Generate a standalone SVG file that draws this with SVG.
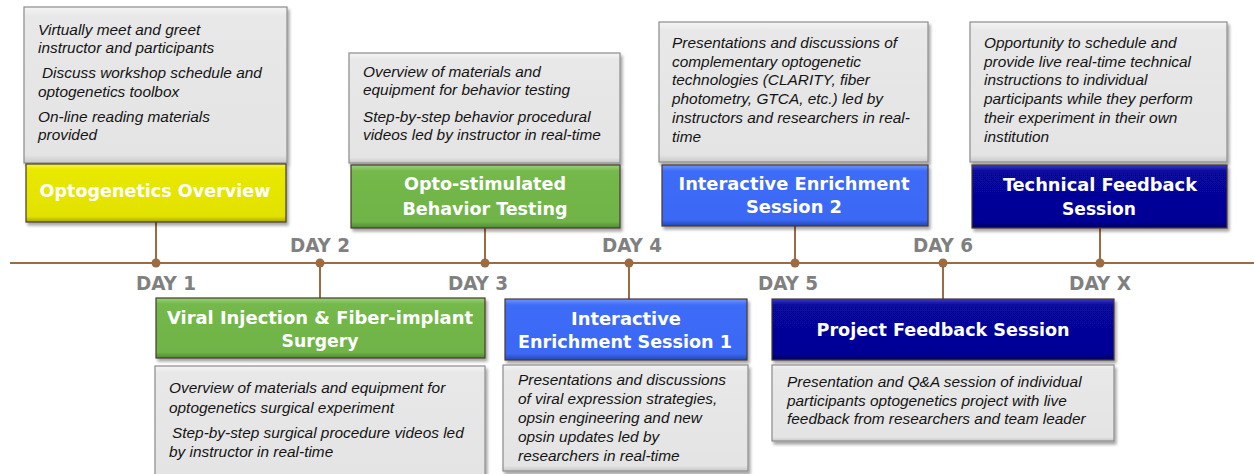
<svg xmlns="http://www.w3.org/2000/svg" width="1254" height="474" viewBox="0 0 1254 474">
<style>
.card{fill:url(#gGray);stroke:#8c8c8c;stroke-width:1.2;filter:url(#sh)}
.hd{stroke:#4a3a2c;stroke-width:1.2;filter:url(#sh)}
.body{font-family:"Liberation Sans",Arial,sans-serif;font-style:italic;font-size:15.4px;fill:#141414}
.ht{font-family:"DejaVu Sans Condensed","DejaVu Sans",sans-serif;font-weight:bold;font-size:18px;fill:#ffffff;text-anchor:middle}
.day{font-family:"DejaVu Sans Condensed","DejaVu Sans",sans-serif;font-weight:bold;font-size:19px;fill:#808080;text-anchor:middle}
.ln{stroke:#9b6b43;stroke-width:2;fill:none}
.dot{fill:#9b6b43}
</style>
<defs>
<filter id="sh" x="-5%" y="-5%" width="115%" height="120%">
<feDropShadow dx="2" dy="3" stdDeviation="1.5" flood-color="#000" flood-opacity="0.35"/>
</filter>
<linearGradient id="gGray" x1="0" y1="0" x2="0" y2="1">
<stop offset="0" stop-color="#f4f4f4"/><stop offset="0.06" stop-color="#e8e8e8"/><stop offset="0.95" stop-color="#e4e4e4"/><stop offset="1" stop-color="#c8c8c8"/>
</linearGradient>
<linearGradient id="gYel" x1="0" y1="0" x2="0" y2="1">
<stop offset="0" stop-color="#f6f640"/><stop offset="0.1" stop-color="#e8e800"/><stop offset="0.9" stop-color="#e2e200"/><stop offset="1" stop-color="#a8a800"/>
</linearGradient>
<linearGradient id="gGrn" x1="0" y1="0" x2="0" y2="1">
<stop offset="0" stop-color="#9ad27a"/><stop offset="0.1" stop-color="#74b84b"/><stop offset="0.9" stop-color="#70b448"/><stop offset="1" stop-color="#4f8a30"/>
</linearGradient>
<linearGradient id="gBlu" x1="0" y1="0" x2="0" y2="1">
<stop offset="0" stop-color="#6f95ff"/><stop offset="0.1" stop-color="#3d6cf8"/><stop offset="0.9" stop-color="#3a68f4"/><stop offset="1" stop-color="#2446b0"/>
</linearGradient>
<linearGradient id="gNav" x1="0" y1="0" x2="0" y2="1">
<stop offset="0" stop-color="#3a3ac8"/><stop offset="0.1" stop-color="#07079c"/><stop offset="0.9" stop-color="#050596"/><stop offset="1" stop-color="#02025e"/>
</linearGradient>
</defs>

<g id="connectors">
<line class="ln" x1="10" y1="263" x2="1254" y2="263"/>
<line class="ln" x1="156" y1="222" x2="156" y2="263"/>
<line class="ln" x1="485" y1="228" x2="485" y2="263"/>
<line class="ln" x1="795" y1="226" x2="795" y2="263"/>
<line class="ln" x1="1100" y1="228" x2="1100" y2="263"/>
<line class="ln" x1="320" y1="263" x2="320" y2="298"/>
<line class="ln" x1="629" y1="263" x2="629" y2="299"/>
<line class="ln" x1="943" y1="263" x2="943" y2="299"/>
<circle class="dot" cx="156" cy="263" r="4.5"/>
<circle class="dot" cx="320" cy="263" r="4.5"/>
<circle class="dot" cx="485" cy="263" r="4.5"/>
<circle class="dot" cx="629" cy="263" r="4.5"/>
<circle class="dot" cx="795" cy="263" r="4.5"/>
<circle class="dot" cx="943" cy="263" r="4.5"/>
<circle class="dot" cx="1100" cy="263" r="4.5"/>
</g>

<g id="days">
<text class="day" x="166" y="290" textLength="60" lengthAdjust="spacingAndGlyphs">DAY 1</text>
<text class="day" x="320" y="252" textLength="60" lengthAdjust="spacingAndGlyphs">DAY 2</text>
<text class="day" x="478" y="290" textLength="60" lengthAdjust="spacingAndGlyphs">DAY 3</text>
<text class="day" x="632" y="252" textLength="60" lengthAdjust="spacingAndGlyphs">DAY 4</text>
<text class="day" x="788" y="290" textLength="60" lengthAdjust="spacingAndGlyphs">DAY 5</text>
<text class="day" x="943" y="252" textLength="60" lengthAdjust="spacingAndGlyphs">DAY 6</text>
<text class="day" x="1100" y="290" textLength="62" lengthAdjust="spacingAndGlyphs">DAY X</text>
</g>

<g id="day1">
<rect class="card" x="24" y="7" width="263" height="156"/>
<text class="body"><tspan x="38" y="35">Virtually meet and greet</tspan><tspan x="38" y="53">instructor and participants</tspan><tspan x="42" y="78">Discuss workshop schedule and</tspan><tspan x="38" y="97">optogenetics toolbox</tspan><tspan x="38" y="122">On-line reading materials</tspan><tspan x="38" y="140">provided</tspan></text>
<rect class="hd" x="26" y="164" width="260" height="58" fill="url(#gYel)"/>
<text class="ht" x="155" y="197" textLength="231" lengthAdjust="spacingAndGlyphs">Optogenetics Overview</text>
</g>

<g id="day2">
<rect class="hd" x="156" y="298" width="329" height="60" fill="url(#gGrn)"/>
<text class="ht" x="320" y="324" textLength="306" lengthAdjust="spacingAndGlyphs">Viral Injection &amp; Fiber-implant</text>
<text class="ht" x="320" y="347" textLength="77" lengthAdjust="spacingAndGlyphs">Surgery</text>
<rect class="card" x="155" y="366" width="330" height="114"/>
<text class="body"><tspan x="169" y="393">Overview of materials and equipment for</tspan><tspan x="169" y="413">optogenetics surgical experiment</tspan><tspan x="172" y="438">Step-by-step surgical procedure videos led</tspan><tspan x="169" y="457">by instructor in real-time</tspan></text>
</g>

<g id="day3">
<rect class="card" x="349" y="53" width="271" height="110"/>
<text class="body"><tspan x="363" y="77">Overview of materials and</tspan><tspan x="363" y="95">equipment for behavior testing</tspan><tspan x="363" y="122">Step-by-step behavior procedural</tspan><tspan x="363" y="140">videos led by instructor in real-time</tspan></text>
<rect class="hd" x="351" y="165" width="269" height="63" fill="url(#gGrn)"/>
<text class="ht" x="485" y="190" textLength="162" lengthAdjust="spacingAndGlyphs">Opto-stimulated</text>
<text class="ht" x="485" y="215" textLength="165" lengthAdjust="spacingAndGlyphs">Behavior Testing</text>
</g>

<g id="day4">
<rect class="hd" x="505" y="299" width="242" height="61" fill="url(#gBlu)"/>
<text class="ht" x="626" y="325" textLength="110" lengthAdjust="spacingAndGlyphs">Interactive</text>
<text class="ht" x="625" y="348" textLength="214" lengthAdjust="spacingAndGlyphs">Enrichment Session 1</text>
<rect class="card" x="503" y="365" width="245" height="106"/>
<text class="body"><tspan x="518" y="385">Presentations and discussions</tspan><tspan x="518" y="404">of viral expression strategies,</tspan><tspan x="518" y="423">opsin engineering and new</tspan><tspan x="518" y="442">opsin updates led by</tspan><tspan x="518" y="461">researchers in real-time</tspan></text>
</g>

<g id="day5">
<rect class="card" x="659" y="22" width="269" height="140"/>
<text class="body"><tspan x="672" y="48">Presentations and discussions of</tspan><tspan x="672" y="67">complementary optogenetic</tspan><tspan x="672" y="85">technologies (CLARITY, fiber</tspan><tspan x="672" y="104">photometry,  GTCA, etc.) led by</tspan><tspan x="672" y="123">instructors and  researchers in real-</tspan><tspan x="672" y="142">time</tspan></text>
<rect class="hd" x="662" y="165" width="266" height="61" fill="url(#gBlu)"/>
<text class="ht" x="794" y="190" textLength="231" lengthAdjust="spacingAndGlyphs">Interactive Enrichment</text>
<text class="ht" x="794" y="213" textLength="96" lengthAdjust="spacingAndGlyphs">Session 2</text>
</g>

<g id="day6">
<rect class="hd" x="772" y="299" width="342" height="61" fill="url(#gNav)"/>
<text class="ht" x="943" y="336" textLength="253" lengthAdjust="spacingAndGlyphs">Project Feedback Session</text>
<rect class="card" x="772" y="365" width="342" height="76"/>
<text class="body"><tspan x="787" y="387">Presentation and  Q&amp;A session of individual</tspan><tspan x="787" y="406">participants optogenetics project with live</tspan><tspan x="787" y="424">feedback from researchers and team leader</tspan></text>
</g>

<g id="dayx">
<rect class="card" x="970" y="22" width="257" height="140"/>
<text class="body"><tspan x="984" y="48">Opportunity to schedule and</tspan><tspan x="984" y="67">provide live real-time technical</tspan><tspan x="984" y="85">instructions to individual</tspan><tspan x="984" y="104">participants while they perform</tspan><tspan x="984" y="123">their experiment in their own</tspan><tspan x="984" y="142">institution</tspan></text>
<rect class="hd" x="972" y="165" width="255" height="63" fill="url(#gNav)"/>
<text class="ht" x="1100" y="191" textLength="194" lengthAdjust="spacingAndGlyphs">Technical Feedback</text>
<text class="ht" x="1099" y="215" textLength="74" lengthAdjust="spacingAndGlyphs">Session</text>
</g>
</svg>
